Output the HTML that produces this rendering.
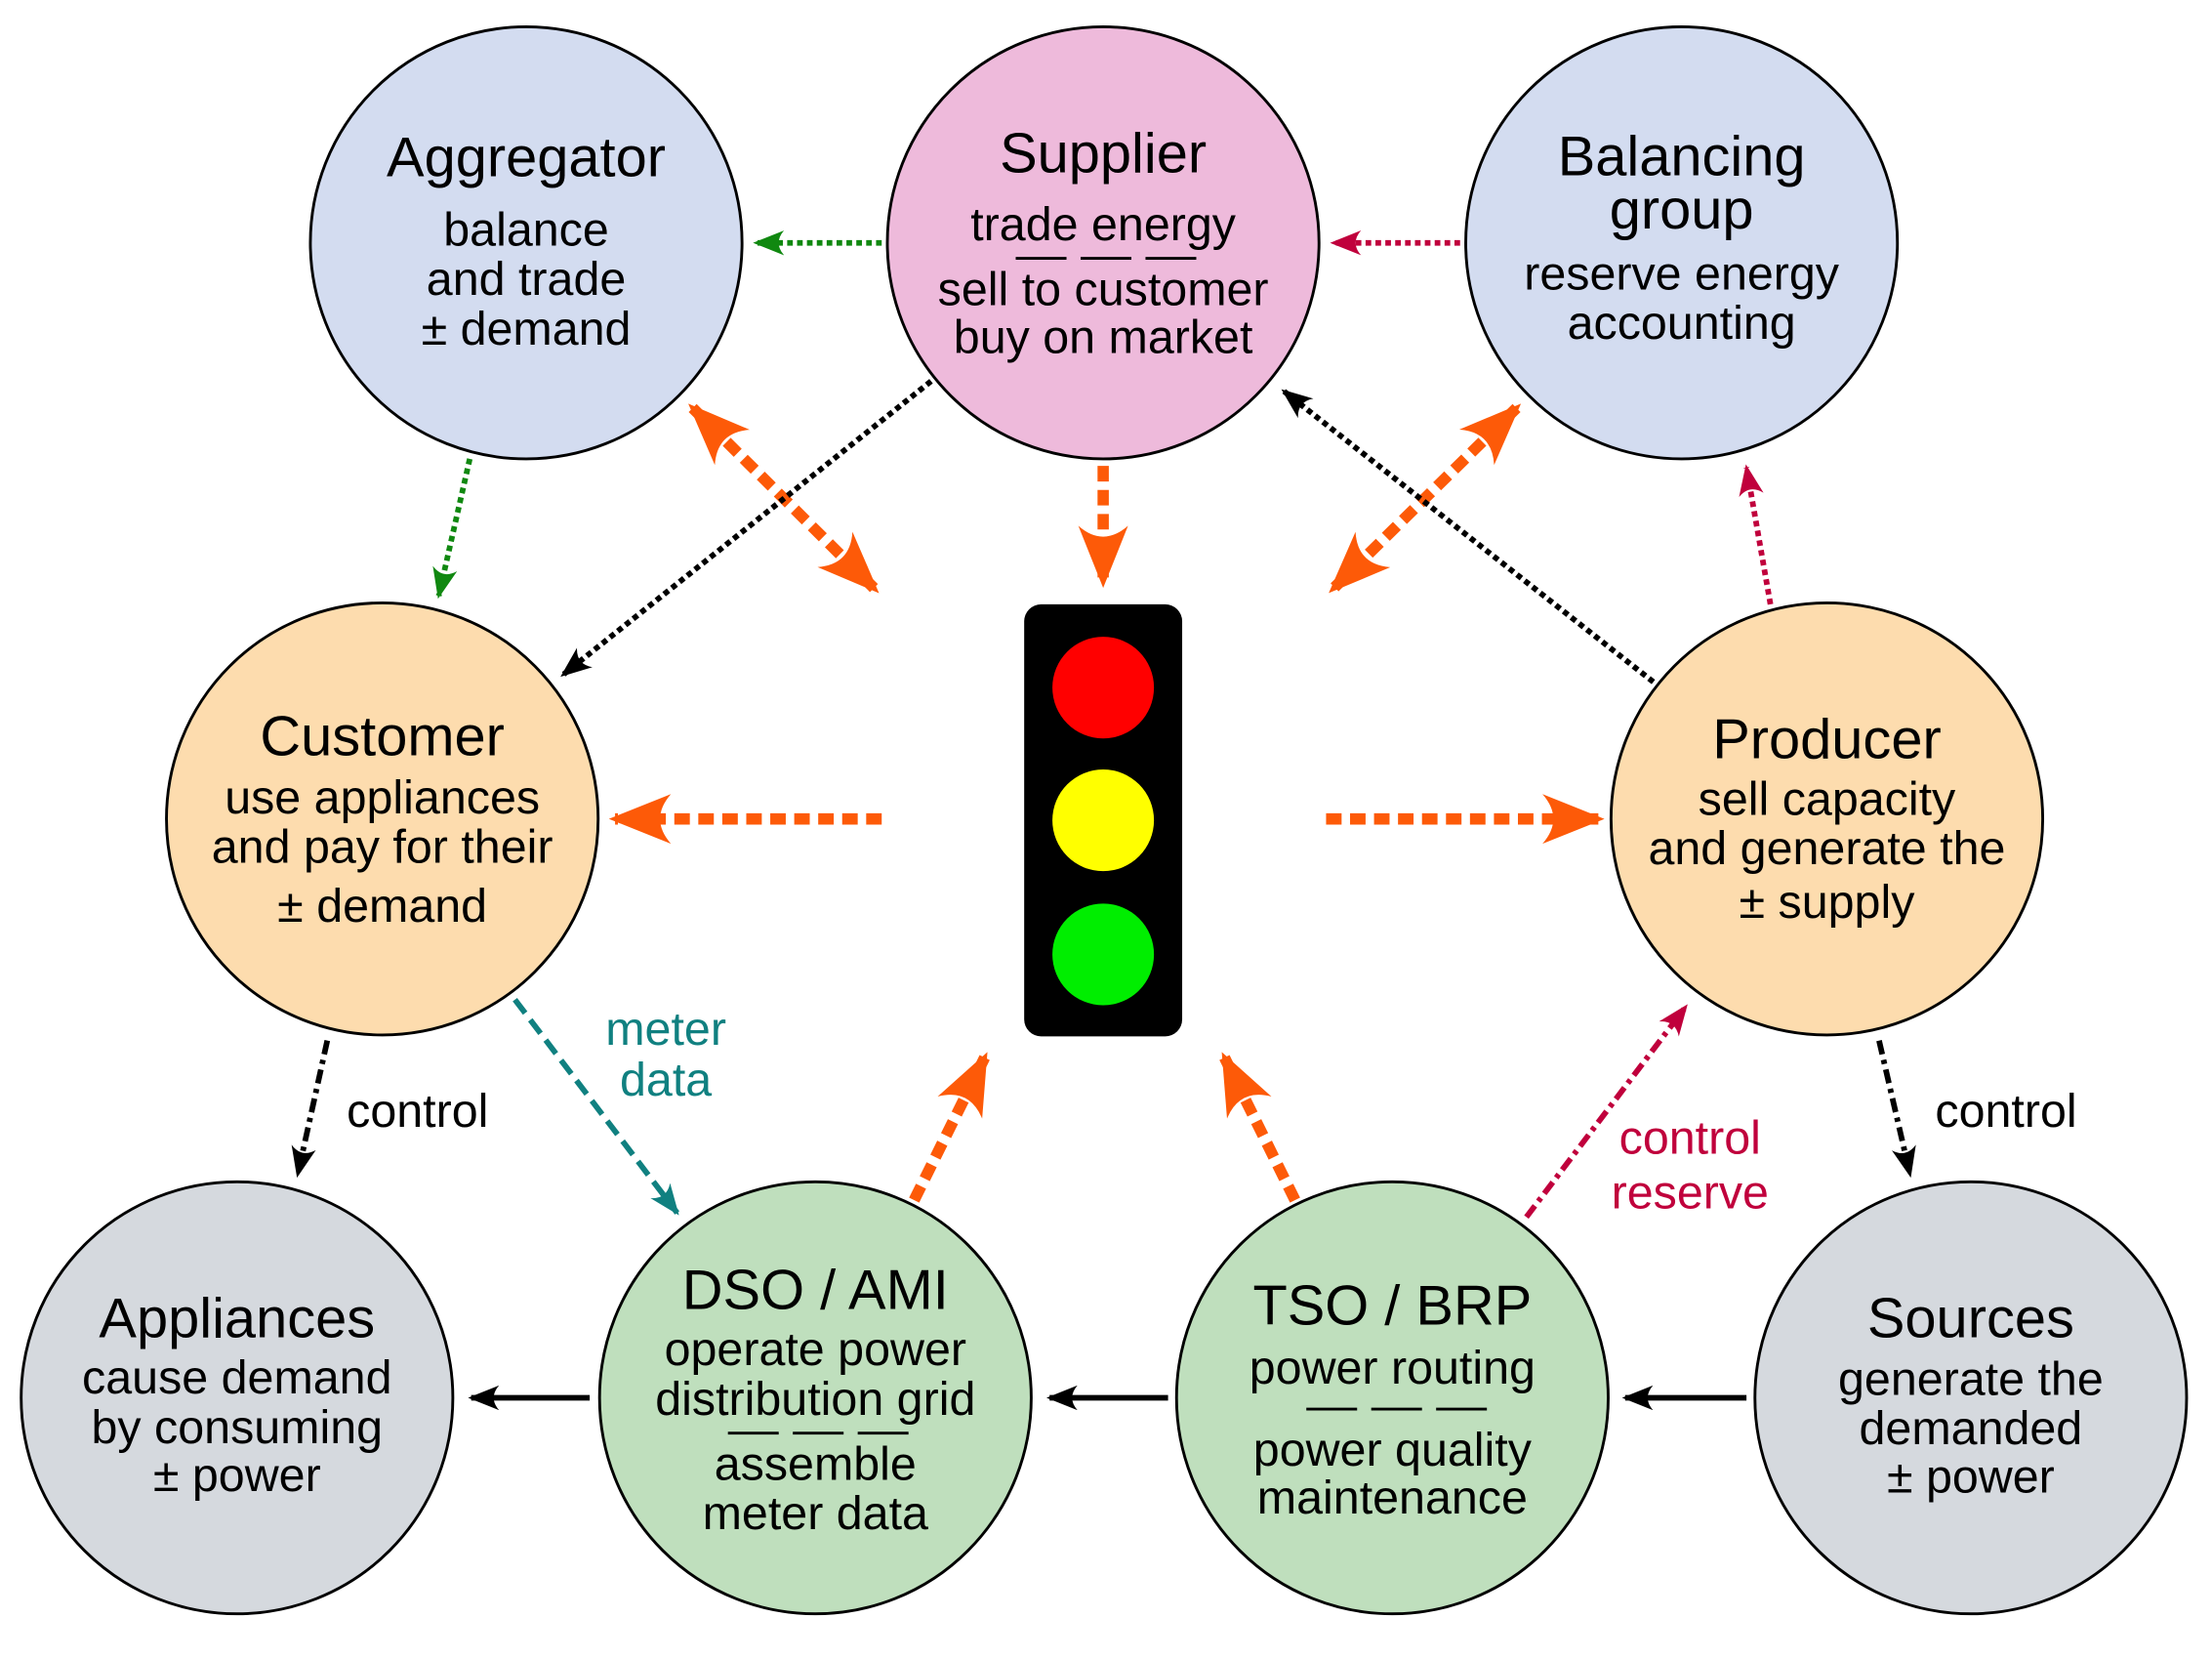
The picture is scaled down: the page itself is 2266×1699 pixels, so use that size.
<!DOCTYPE html>
<html><head><meta charset="utf-8"><style>
html,body{margin:0;padding:0;background:#fff;}
svg{display:block;}
text{font-family:"Liberation Sans",sans-serif;text-anchor:middle;fill:#000;}
.t{font-size:40px;}
.b{font-size:33.5px;}
</style></head><body>
<svg width="2266" height="1699" viewBox="0 0 1568 1175" preserveAspectRatio="none" xmlns="http://www.w3.org/2000/svg">
<defs>
<marker id="ho" viewBox="0 0 10 8" refX="9" refY="4" markerWidth="5.5" markerHeight="4.4" orient="auto-start-reverse" markerUnits="strokeWidth"><path d="M0,0 Q3.5,4 0,8 L10,4 Z" fill="#fd5a08"/></marker>
<marker id="hg" viewBox="0 0 10 8" refX="9" refY="4" markerWidth="5.5" markerHeight="4.4" orient="auto" markerUnits="strokeWidth"><path d="M0,0 Q3.5,4 0,8 L10,4 Z" fill="#108810"/></marker>
<marker id="hr" viewBox="0 0 10 8" refX="9" refY="4" markerWidth="5.5" markerHeight="4.4" orient="auto" markerUnits="strokeWidth"><path d="M0,0 Q3.5,4 0,8 L10,4 Z" fill="#c0003c"/></marker>
<marker id="hk" viewBox="0 0 10 8" refX="9" refY="4" markerWidth="5.5" markerHeight="4.4" orient="auto" markerUnits="strokeWidth"><path d="M0,0 Q3.5,4 0,8 L10,4 Z" fill="#000"/></marker>
<marker id="ht" viewBox="0 0 10 8" refX="9" refY="4" markerWidth="5.5" markerHeight="4.4" orient="auto" markerUnits="strokeWidth"><path d="M0,0 Q3.5,4 0,8 L10,4 Z" fill="#108080"/></marker>
</defs>
<g stroke="#000" stroke-width="2">
<circle cx="373" cy="172" r="153" fill="#d3dcf0"/>
<circle cx="782" cy="172" r="153" fill="#eebadb"/>
<circle cx="1192" cy="172" r="153" fill="#d3dcf0"/>
<circle cx="271" cy="580" r="153" fill="#fddcae"/>
<circle cx="1295" cy="580" r="153" fill="#fddcae"/>
<circle cx="168" cy="990" r="153" fill="#d5d9de"/>
<circle cx="578" cy="990" r="153" fill="#bfdfbd"/>
<circle cx="987" cy="990" r="153" fill="#bfdfbd"/>
<circle cx="1397" cy="990" r="153" fill="#d5d9de"/>
</g>
<rect x="726" y="428" width="112" height="306" rx="12" fill="#000"/>
<circle cx="782" cy="487" r="36" fill="#f00"/>
<circle cx="782" cy="581" r="36" fill="#ff0"/>
<circle cx="782" cy="676" r="36" fill="#0e0"/>
<g fill="none" stroke="#fd5a08" stroke-width="8" stroke-dasharray="11,6">
<line x1="782" y1="330" x2="782" y2="412" marker-end="url(#ho)"/>
<line x1="625" y1="580" x2="436" y2="580" marker-end="url(#ho)"/>
<line x1="940" y1="580" x2="1133" y2="580" marker-end="url(#ho)"/>
<line x1="491" y1="289" x2="620" y2="417" marker-start="url(#ho)" marker-end="url(#ho)"/>
<line x1="1075" y1="289" x2="945" y2="417" marker-start="url(#ho)" marker-end="url(#ho)"/>
<line x1="648" y1="850" x2="698" y2="749" marker-end="url(#ho)"/>
<line x1="918" y1="850" x2="868" y2="749" marker-end="url(#ho)"/>
</g>
<g fill="none" stroke-width="4" stroke-dasharray="4,3">
<line x1="625" y1="172" x2="536" y2="172" stroke="#108810" marker-end="url(#hg)"/>
<line x1="333" y1="325" x2="311" y2="422" stroke="#108810" marker-end="url(#hg)"/>
<line x1="1035" y1="172" x2="945" y2="172" stroke="#c0003c" marker-end="url(#hr)"/>
<line x1="1255" y1="428" x2="1238" y2="331" stroke="#c0003c" marker-end="url(#hr)"/>
<line x1="660" y1="270" x2="399" y2="478" stroke="#000" marker-end="url(#hk)"/>
<line x1="1172" y1="483" x2="910" y2="277" stroke="#000" marker-end="url(#hk)"/>
</g>
<g fill="none" stroke-width="4">
<line x1="232" y1="737" x2="211" y2="832" stroke="#000" stroke-dasharray="10,4,3,4" marker-end="url(#hk)"/>
<line x1="1332" y1="737" x2="1354" y2="832" stroke="#000" stroke-dasharray="10,4,3,4" marker-end="url(#hk)"/>
<line x1="365" y1="708" x2="480" y2="859" stroke="#108080" stroke-dasharray="12,6" marker-end="url(#ht)"/>
<line x1="1082" y1="862" x2="1195" y2="713" stroke="#c0003c" stroke-dasharray="10,4,3,4" marker-end="url(#hr)"/>
<line x1="418" y1="990" x2="334" y2="990" stroke="#000" marker-end="url(#hk)"/>
<line x1="828" y1="990" x2="744" y2="990" stroke="#000" marker-end="url(#hk)"/>
<line x1="1238" y1="990" x2="1152" y2="990" stroke="#000" marker-end="url(#hk)"/>
</g>
<text class="t" x="373" y="125">Aggregator</text>
<text class="b" x="373" y="174">balance</text>
<text class="b" x="373" y="209">and trade</text>
<text class="b" x="373" y="244">± demand</text>
<text class="t" x="782" y="122">Supplier</text>
<text class="b" x="782" y="170">trade energy</text>
<text class="b" x="782" y="216">sell to customer</text>
<text class="b" x="782" y="250">buy on market</text>
<g stroke="#000" stroke-width="2"><line x1="720" y1="183" x2="756" y2="183"/><line x1="766" y1="183" x2="802" y2="183"/><line x1="812" y1="183" x2="848" y2="183"/></g>
<text class="t" x="1192" y="124">Balancing</text>
<text class="t" x="1192" y="162">group</text>
<text class="b" x="1192" y="205">reserve energy</text>
<text class="b" x="1192" y="240">accounting</text>
<text class="t" x="271" y="535">Customer</text>
<text class="b" x="271" y="576">use appliances</text>
<text class="b" x="271" y="611">and pay for their</text>
<text class="b" x="271" y="653">± demand</text>
<text class="t" x="1295" y="537">Producer</text>
<text class="b" x="1295" y="577">sell capacity</text>
<text class="b" x="1295" y="612">and generate the</text>
<text class="b" x="1295" y="650">± supply</text>
<text class="t" x="168" y="947">Appliances</text>
<text class="b" x="168" y="987">cause demand</text>
<text class="b" x="168" y="1022">by consuming</text>
<text class="b" x="168" y="1056">± power</text>
<text class="t" x="578" y="927">DSO / AMI</text>
<text class="b" x="578" y="967">operate power</text>
<text class="b" x="578" y="1002">distribution grid</text>
<text class="b" x="578" y="1048">assemble</text>
<text class="b" x="578" y="1083">meter data</text>
<g stroke="#000" stroke-width="2"><line x1="516" y1="1015" x2="552" y2="1015"/><line x1="562" y1="1015" x2="598" y2="1015"/><line x1="608" y1="1015" x2="644" y2="1015"/></g>
<text class="t" x="987" y="938">TSO / BRP</text>
<text class="b" x="987" y="980">power routing</text>
<text class="b" x="987" y="1038">power quality</text>
<text class="b" x="987" y="1072">maintenance</text>
<g stroke="#000" stroke-width="2"><line x1="926" y1="998" x2="962" y2="998"/><line x1="972" y1="998" x2="1008" y2="998"/><line x1="1018" y1="998" x2="1054" y2="998"/></g>
<text class="t" x="1397" y="947">Sources</text>
<text class="b" x="1397" y="988">generate the</text>
<text class="b" x="1397" y="1023">demanded</text>
<text class="b" x="1397" y="1057">± power</text>
<text class="b" x="296" y="798">control</text>
<text class="b" x="1422" y="798">control</text>
<text class="b" x="472" y="740" style="fill:#108080">meter</text>
<text class="b" x="472" y="776" style="fill:#108080">data</text>
<text class="b" x="1198" y="817" style="fill:#c0003c">control</text>
<text class="b" x="1198" y="856" style="fill:#c0003c">reserve</text>
</svg>
</body></html>
